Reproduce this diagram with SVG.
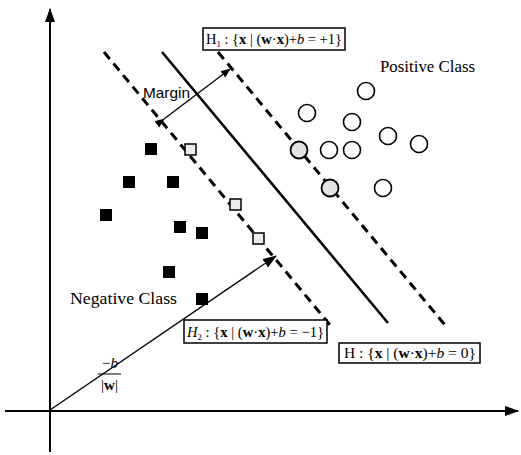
<svg xmlns="http://www.w3.org/2000/svg" width="521" height="455" viewBox="0 0 521 455">
<style>
.ax{stroke:#000;stroke-width:2;fill:none}
.dash{stroke:#000;stroke-width:3;stroke-dasharray:9,6;fill:none}
.solid{stroke:#000;stroke-width:2.5;fill:none}
.thin{stroke:#000;stroke-width:1.3;fill:none}
.neg{fill:#000}
.sv{fill:#ececec;stroke:#000;stroke-width:1.5}
.pos{fill:#fff;stroke:#000;stroke-width:1.6}
.pos-sv{fill:#e2e2e2;stroke:#000;stroke-width:1.8}
.box{fill:#fff;stroke:#000;stroke-width:1.5}
.math{font-family:"Liberation Serif",serif;font-size:15px;fill:#000}
.lbl{font-family:"Liberation Serif",serif;font-size:16px;fill:#000}
.sans{font-family:"Liberation Sans",sans-serif;font-size:14px;fill:#000}
</style>
<defs>
<marker id="ah" markerWidth="10" markerHeight="10" refX="9" refY="5" orient="auto" markerUnits="userSpaceOnUse">
<path d="M0,1 L10,5 L0,9 z" fill="#000"/>
</marker>
<marker id="big" markerWidth="14" markerHeight="12" refX="13" refY="6" orient="auto" markerUnits="userSpaceOnUse">
<path d="M0,1 L14,6 L0,11 z" fill="#000"/>
</marker>
<marker id="vec" markerWidth="14" markerHeight="10" refX="13" refY="5" orient="auto" markerUnits="userSpaceOnUse">
<path d="M0,0 L14,5 L0,10 z" fill="#000"/>
</marker>
</defs>

<g id="connectors">
<line class="ax" x1="50" y1="452" x2="50" y2="9" marker-end="url(#big)"/>
<line class="ax" x1="5" y1="411" x2="518" y2="411" marker-end="url(#big)"/>
<line class="dash" x1="104" y1="52" x2="330" y2="325"/>
<line class="solid" x1="162" y1="52" x2="388" y2="323"/>
<line class="dash" x1="218" y1="52" x2="445" y2="325"/>
<line class="thin" x1="164" y1="119" x2="230" y2="69" marker-start="url(#ah)" marker-end="url(#ah)"/>
<line class="thin" x1="50" y1="410" x2="276" y2="256" marker-end="url(#vec)"/>
</g>

<g id="negative-class">
<rect class="neg" x="145" y="143" width="12" height="12"/>
<rect class="neg" x="123" y="176" width="12" height="12"/>
<rect class="neg" x="167" y="176" width="12" height="12"/>
<rect class="neg" x="100" y="209" width="12" height="12"/>
<rect class="neg" x="174" y="221" width="12" height="12"/>
<rect class="neg" x="196" y="227" width="12" height="12"/>
<rect class="neg" x="163" y="266" width="12" height="12"/>
<rect class="neg" x="196" y="293" width="12" height="12"/>
<rect class="sv" x="185" y="144" width="11" height="11"/>
<rect class="sv" x="230" y="199" width="11" height="11"/>
<rect class="sv" x="253" y="233" width="11" height="11"/>
</g>

<g id="positive-class">
<circle class="pos" cx="366" cy="91" r="8.5"/>
<circle class="pos" cx="307" cy="113" r="8.5"/>
<circle class="pos" cx="352" cy="122" r="8.5"/>
<circle class="pos" cx="388" cy="136" r="8.5"/>
<circle class="pos" cx="419" cy="144" r="8.5"/>
<circle class="pos" cx="329" cy="150" r="8.5"/>
<circle class="pos" cx="352" cy="150" r="8.5"/>
<circle class="pos" cx="383" cy="188" r="8.5"/>
<circle class="pos-sv" cx="299" cy="150" r="8.5"/>
<circle class="pos-sv" cx="330" cy="188" r="8.5"/>
</g>

<g id="labels">
<text class="lbl" x="380" y="72" textLength="95" lengthAdjust="spacingAndGlyphs">Positive Class</text>
<text class="lbl" x="70" y="304" textLength="107" lengthAdjust="spacingAndGlyphs">Negative Class</text>
<text class="sans" x="143" y="98" textLength="47" lengthAdjust="spacingAndGlyphs">Margin</text>
</g>

<g id="h1">
<rect class="box" x="203" y="28" width="142" height="22"/>
<text class="math" x="206" y="44" textLength="136" lengthAdjust="spacingAndGlyphs">H<tspan font-size="9" dy="3">1</tspan><tspan dy="-3"> : {</tspan><tspan font-weight="bold">x</tspan> | (<tspan font-weight="bold">w</tspan>·<tspan font-weight="bold">x</tspan>)+<tspan font-style="italic">b</tspan> = +1}</text>
</g>

<g id="h2">
<rect class="box" x="184" y="320" width="143" height="23"/>
<text class="math" x="187" y="337" textLength="137" lengthAdjust="spacingAndGlyphs"><tspan font-style="italic">H</tspan><tspan font-size="9" dy="3">2</tspan><tspan dy="-3"> : {</tspan><tspan font-weight="bold">x</tspan> | (<tspan font-weight="bold">w</tspan>·<tspan font-weight="bold">x</tspan>)+<tspan font-style="italic">b</tspan> = −1}</text>
</g>

<g id="h">
<rect class="box" x="339" y="343" width="141" height="20"/>
<text class="math" x="344" y="358" textLength="132" lengthAdjust="spacingAndGlyphs">H : {<tspan font-weight="bold">x</tspan> | (<tspan font-weight="bold">w</tspan>·<tspan font-weight="bold">x</tspan>)+<tspan font-style="italic">b</tspan> = 0}</text>
</g>

<g id="distance-label">
<text class="math" x="110" y="368" text-anchor="middle" font-size="12">−<tspan font-style="italic">b</tspan></text>
<line x1="98" y1="374" x2="121" y2="374" stroke="#000" stroke-width="1"/>
<text class="math" x="109.5" y="390" text-anchor="middle" font-size="14">|<tspan font-weight="bold">w</tspan>|</text>
</g>
</svg>
